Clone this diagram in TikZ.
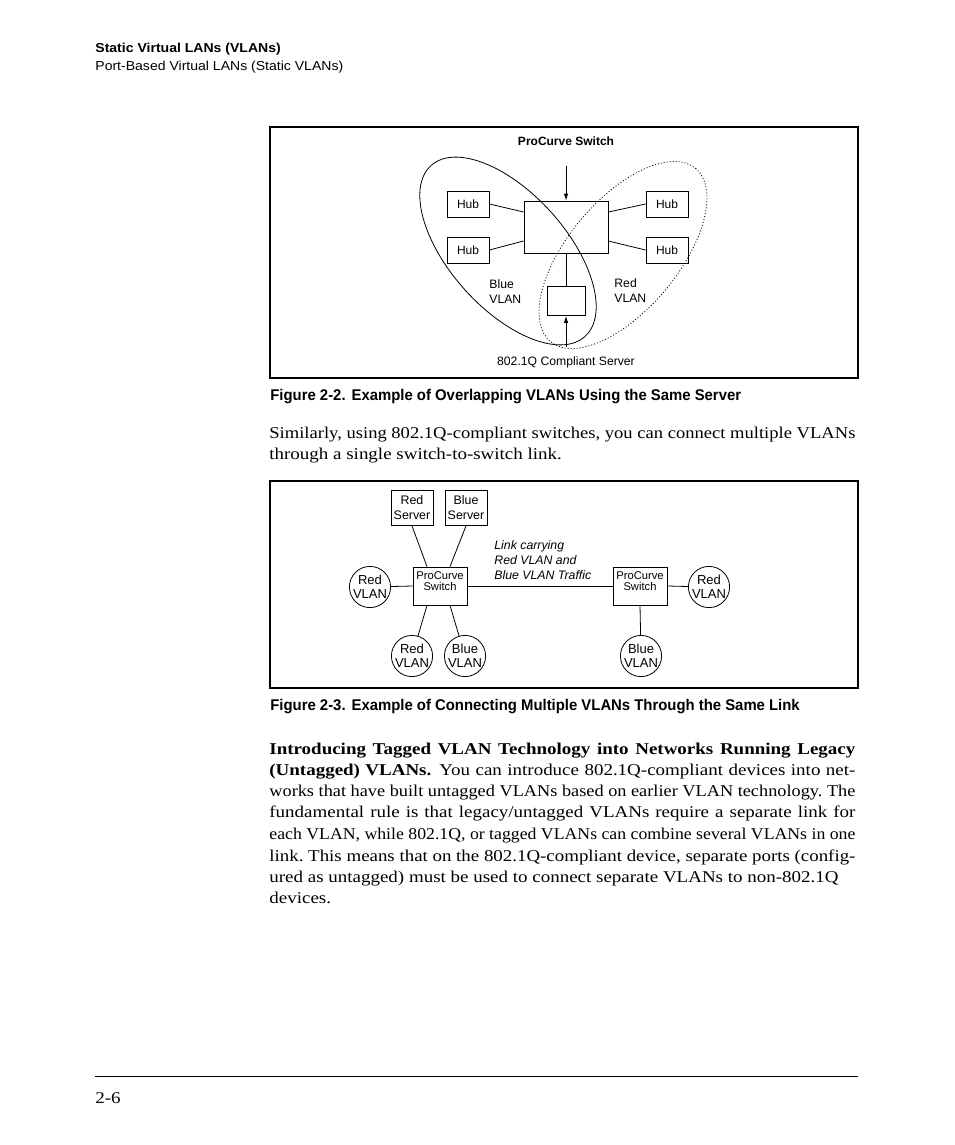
\documentclass[tikz,border=0pt]{standalone}
\usepackage{fontspec}
\usepackage{graphicx}
\setmainfont{Liberation Serif}[FakeStretch=1.15]
\newfontfamily\hdfont[FakeStretch=1.08]{Liberation Sans}
\newfontfamily\capfont[FakeStretch=0.96]{Liberation Sans}
\newfontfamily\figfont{Liberation Sans}
\usetikzlibrary{arrows.meta,positioning}
\newsavebox\jbox
\newcommand{\jline}[1]{\sbox\jbox{#1}\ifdim\wd\jbox>586pt
  \resizebox{586pt}{\height}{\usebox\jbox}\else\hbox to 586pt{#1}\fi}
\frenchspacing

\begin{document}
\begin{tikzpicture}[x=1pt, y=-1pt, line width=0.8pt,
  hub/.style={draw, minimum width=42pt, minimum height=26pt, inner sep=0pt,
    font=\figfont\fontsize{12}{13}\selectfont},
  srv/.style={draw, minimum width=42pt, minimum height=35pt, inner sep=0pt, align=center,
    text depth=0pt, font=\figfont\fontsize{12.4}{15}\selectfont},
  sw/.style={draw, minimum width=54pt, minimum height=38pt, inner sep=0pt, align=center,
    text depth=10pt, font=\figfont\fontsize{11.2}{11}\selectfont},
  vlan/.style={draw, circle, minimum size=40pt, inner sep=0pt, align=center,
    font=\figfont\fontsize{13}{14}\selectfont},
  lbl/.style={inner sep=0pt, align=left, font=\figfont\fontsize{12.2}{15}\selectfont},
  body/.style={anchor=base west, inner sep=0pt, font=\fontsize{16.5}{20}\selectfont},
  figcap/.style={anchor=base west, inner sep=0pt, font=\capfont\bfseries\fontsize{15.5}{17}\selectfont},
  tip/.style={-{Latex[length=7pt,width=4.5pt]}}
]
  \fill[white] (0,0) rectangle (954,1145);
  \useasboundingbox (0,0) rectangle (954,1145);

  \node[anchor=base west, inner sep=0pt, font=\hdfont\bfseries\fontsize{13}{14}\selectfont] (hd) at (95,53) {Static Virtual LANs (VLANs)};
  \node[anchor=base west, inner sep=0pt, font=\hdfont\fontsize{13}{14}\selectfont] (sub) at (95,71) {Port-Based Virtual LANs (Static VLANs)};

  \draw[line width=1.4pt] (270,127) rectangle (858,378);
  \node[font=\figfont\bfseries\fontsize{12}{13}\selectfont] (pc) at (566,141) {ProCurve Switch};
  \node[draw, minimum width=84pt, minimum height=52pt] (sw) at (566,227) {};
  \node[hub] (h1) at (468,204) {Hub};
  \node[hub] (h2) at (468,250) {Hub};
  \node[hub] (h3) at (667,204) {Hub};
  \node[hub] (h4) at (667,250) {Hub};
  \node[draw, minimum width=38pt, minimum height=29pt] (srv) at (566,301) {};
  \draw (h1.east) -- ([yshift=15pt]sw.west);
  \draw (h2.east) -- ([yshift=-14pt]sw.west);
  \draw (h3.west) -- ([yshift=15pt]sw.east);
  \draw (h4.west) -- ([yshift=-14pt]sw.east);
  \draw (sw.south) -- (srv.north);
  \coordinate (a1) at (566,166);
  \draw[tip] (a1) -- (sw.north);
  \node[lbl] (sl) at (566,362) {802.1Q Compliant Server};
  \coordinate (a2) at (566,347);
  \draw[tip] (a2) -- (srv.south);
  \draw[rotate around={-48:(508,251)}] (508,251) ellipse [x radius=115, y radius=58];
  \draw[dash pattern=on 1pt off 2pt, rotate around={50:(623,255)}] (623,255) ellipse [x radius=113, y radius=55];
  \node[lbl, anchor=west] (bv) at (489,292) {Blue\\VLAN};
  \node[lbl, anchor=west] (rv) at (614,291) {Red\\VLAN};

  \node[figcap] (c1) at (270,400) {Figure 2-2.\hspace{6pt}Example of Overlapping VLANs Using the Same Server};

  \node[body] (p1) at (269,438) {\jline{Similarly, using 802.1Q-compliant switches, you can connect multiple VLANs}};
  \node[body] (p2) at (269,459) {through a single switch-to-switch link.};

  \draw[line width=1.4pt] (270,481) rectangle (858,688);
  \node[srv] (rs) at (412,508) {Red\\Server};
  \node[srv] (bs) at (466,508) {Blue\\Server};
  \node[sw] (s1) at (440,586) {ProCurve\\Switch};
  \node[sw] (s2) at (640,586) {ProCurve\\Switch};
  \node[vlan] (rl) at (370,587) {Red\\VLAN};
  \node[vlan] (rb) at (412,656) {Red\\VLAN};
  \node[vlan] (bb) at (465,656) {Blue\\VLAN};
  \node[vlan] (rr) at (709,587) {Red\\VLAN};
  \node[vlan] (br) at (641,656) {Blue\\VLAN};
  \draw (rs.south) -- ([xshift=-13pt]s1.north);
  \draw (bs.south) -- ([xshift=10pt]s1.north);
  \draw (s1.west) -- (rl);
  \draw ([xshift=-13pt]s1.south) -- (rb);
  \draw ([xshift=10pt]s1.south) -- (bb);
  \draw (s1.east) -- (s2.west);
  \draw (s2.east) -- (rr);
  \draw (s2.south) -- (br);
  \node[lbl, anchor=north west, font=\figfont\itshape\fontsize{12.3}{15}\selectfont] (lk) at (494,540) {Link carrying\\Red VLAN and\\Blue VLAN Traffic};

  \node[figcap] (c2) at (270,710) {Figure 2-3.\hspace{6pt}Example of Connecting Multiple VLANs Through the Same Link};

  \node[body] (q1) at (269,754) {\jline{\bfseries Introducing Tagged VLAN Technology into Networks Running Legacy}};
  \node[body] (q2) at (269,775) {\jline{\textbf{(Untagged) VLANs.}\hspace{8pt}You can introduce 802.1Q-compliant devices into net-}};
  \node[body] (q3) at (269,796) {\jline{works that have built untagged VLANs based on earlier VLAN technology. The}};
  \node[body] (q4) at (269,817) {\jline{fundamental rule is that legacy/untagged VLANs require a separate link for}};
  \node[body] (q5) at (269,839) {\jline{each VLAN, while 802.1Q, or tagged VLANs can combine several VLANs in one}};
  \node[body] (q6) at (269,861) {\jline{link. This means that on the 802.1Q-compliant device, separate ports (config-}};
  \node[body] (q7) at (269,882) {ured as untagged) must be used to connect separate VLANs to non-802.1Q};
  \node[body] (q8) at (269,903) {devices.};

  \draw (95,1076) -- (858,1076);
  \node[body] (pg) at (95,1103) {2-6};
\end{tikzpicture}
\end{document}
